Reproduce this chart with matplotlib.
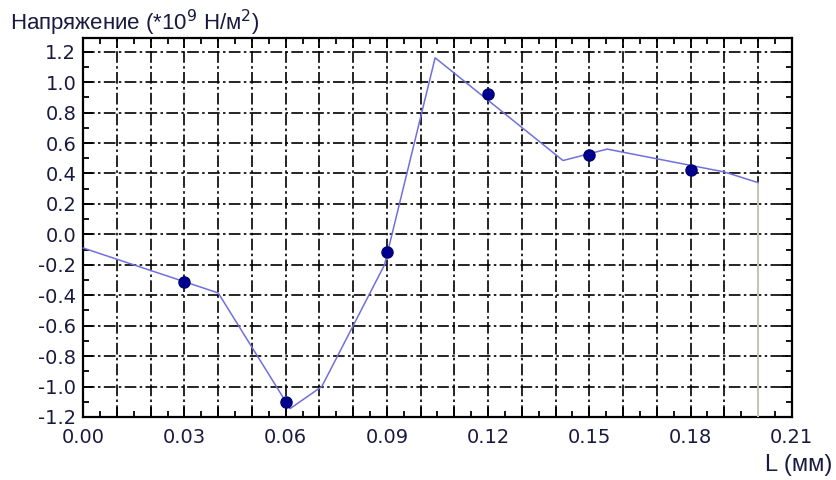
import matplotlib
matplotlib.use("Agg")
import matplotlib.pyplot as plt
from matplotlib.ticker import MultipleLocator, FuncFormatter

# Data
line_x = [0.0, 0.04, 0.0613, 0.0707, 0.0893, 0.1043, 0.1422, 0.1553, 0.19, 0.2]
line_y = [-0.09, -0.385, -1.145, -1.0, -0.2, 1.16, 0.485, 0.56, 0.41, 0.34]
marker_x = [0.03, 0.06, 0.09, 0.12, 0.15, 0.18]
marker_y = [-0.31, -1.10, -0.115, 0.92, 0.52, 0.42]
x_ticklabels = ["0.00", "0.03", "0.06", "0.09", "0.12", "0.15", "0.18", "0.21"]
y_ticklabels = ["-1.2", "-1.0", "-0.8", "-0.6", "-0.4", "-0.2", "0.0", "0.2", "0.4", "0.6", "0.8", "1.0", "1.2"]
title_text = "Напряжение (*10$^9$ Н/м$^2$)"
xlabel_text = "L (мм)"

fig = plt.figure(figsize=(8.37, 4.8), dpi=100)
ax = fig.add_axes([0.0995, 0.13125, 0.8464, 0.7896])

ax.set_xlim(0, 0.21)
ax.set_ylim(-1.2, 1.29)

# grid
ax.xaxis.set_major_locator(MultipleLocator(0.01))
ax.xaxis.set_minor_locator(MultipleLocator(0.005))
ax.yaxis.set_major_locator(MultipleLocator(0.2))
ax.yaxis.set_minor_locator(MultipleLocator(0.1))
ax.grid(True, which="major", color="black", linestyle=(0, (7, 2, 1.5, 2)), linewidth=1.2)
ax.set_axisbelow(True)

def xfmt(v, pos):
    k = round(v / 0.01)
    if k % 3 == 0:
        return x_ticklabels[k // 3] if 0 <= k // 3 < len(x_ticklabels) else ""
    return ""

def yfmt(v, pos):
    k = round((v + 1.2) / 0.2)
    if 0 <= k < len(y_ticklabels):
        return y_ticklabels[k]
    return ""

ax.xaxis.set_major_formatter(FuncFormatter(xfmt))
ax.yaxis.set_major_formatter(FuncFormatter(yfmt))

ax.tick_params(which="both", direction="in", top=True, right=True, width=1.3, colors="black",
               labelsize=14, labelcolor="#1a1a40")
ax.tick_params(which="major", length=7)
ax.tick_params(which="minor", length=4)
ax.tick_params(axis="x", pad=8)
ax.tick_params(axis="y", pad=5)
for lab in ax.get_xticklabels() + ax.get_yticklabels():
    lab.set_family("DejaVu Sans")

for s in ax.spines.values():
    s.set_linewidth(1.6)
    s.set_color("black")

# data
ax.plot([line_x[-1], line_x[-1]], [-1.2, line_y[-1]], color="#c4c4b8", linewidth=1.5, zorder=3)
ax.plot(line_x, line_y, color="#7070dc", linewidth=1.1, zorder=4, clip_on=False)
ax.plot(marker_x, marker_y, linestyle="none", marker="o", markersize=8,
        color="#000090", markeredgecolor="#000070", zorder=5)

fig.text(0.012, 0.953, title_text, fontsize=16, family="Liberation Sans",
         color="#1a1a40", ha="left", va="center")
fig.text(0.994, 0.031, xlabel_text, fontsize=17, family="Liberation Sans",
         color="#1a1a40", ha="right", va="center")

fig.savefig("out.png", dpi=100)
